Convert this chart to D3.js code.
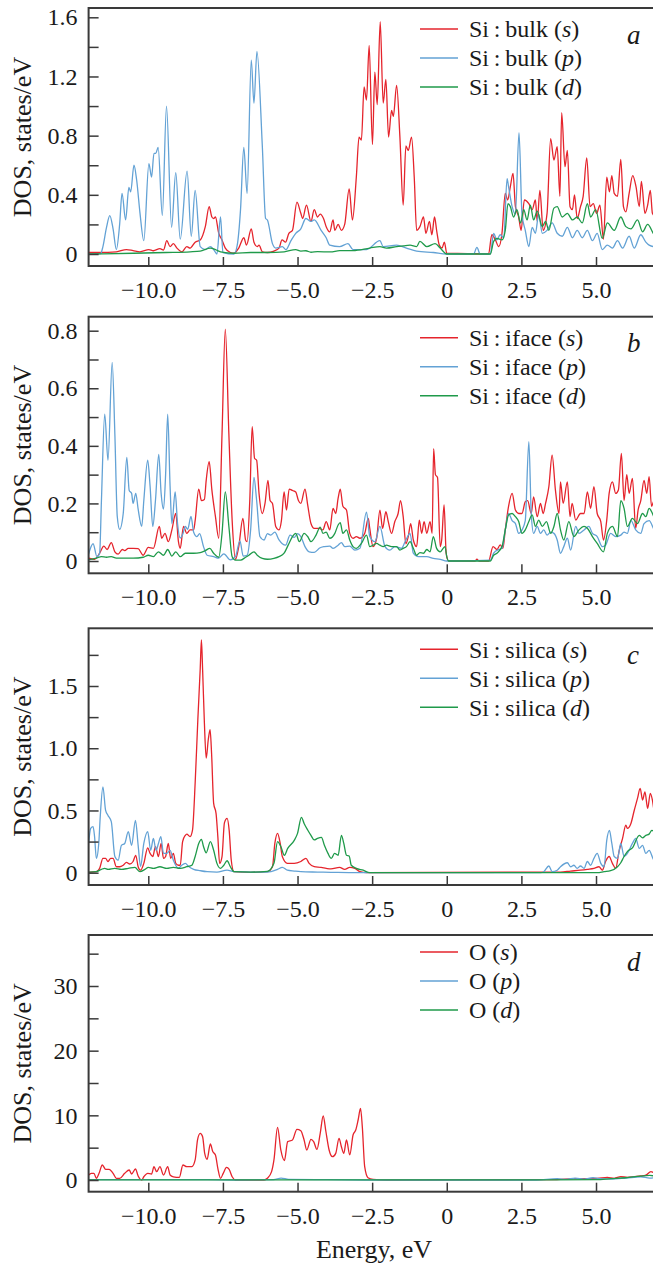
<!DOCTYPE html>
<html>
<head>
<meta charset="utf-8">
<script src="https://cdn.jsdelivr.net/npm/d3@7/dist/d3.min.js"></script>
<style>
  html, body { margin: 0; padding: 0; background: #fff; }
  svg { display: block; }
  text { font-family: "Liberation Serif", Tinos, "Times New Roman", Times, serif; fill: #1a1a1a; }
</style>
</head>
<body>
<svg id="chart" width="653" height="1268"></svg>
<script>
// ---- Projected DOS, [energy (eV), states/eV] ----
// a: Si bulk
const aS = [[-12,0.01],[-11.63,0.01],[-11.07,0.015],[-10.73,0.03],[-10.51,0.023],[-10.28,0.015],[-9.98,0.03],[-9.83,0.022],[-9.61,0.036],[-9.49,0.027],[-9.38,0.09],[-9.27,0.05],[-9.16,0.07],[-9.04,0.04],[-8.87,0.015],[-8.71,0.05],[-8.6,0.04],[-8.43,0.08],[-8.26,0.095],[-8.09,0.185],[-7.96,0.32],[-7.87,0.25],[-7.81,0.24],[-7.75,0.25],[-7.64,0.14],[-7.53,0.095],[-7.42,0.04],[-7.25,0.01],[-7.13,0.005],[-6.97,0.04],[-6.8,0.11],[-6.71,0.06],[-6.55,0.17],[-6.46,0.08],[-6.35,0.05],[-6.29,0.06],[-6.18,0.015],[-6.01,0.01],[-5.79,0.02],[-5.62,0.04],[-5.52,0.095],[-5.4,0.08],[-5.29,0.14],[-5.17,0.16],[-5.02,0.35],[-4.89,0.275],[-4.83,0.24],[-4.7,0.33],[-4.55,0.22],[-4.44,0.3],[-4.33,0.25],[-4.24,0.27],[-4.13,0.24],[-4.04,0.185],[-3.92,0.15],[-3.81,0.23],[-3.75,0.16],[-3.64,0.2],[-3.53,0.16],[-3.42,0.2],[-3.27,0.44],[-3.16,0.23],[-3.03,0.52],[-2.94,0.79],[-2.86,0.77],[-2.77,1.13],[-2.69,1.04],[-2.6,1.41],[-2.49,0.74],[-2.41,1.23],[-2.33,1.01],[-2.23,1.57],[-2.13,1.02],[-2.04,1.18],[-1.95,0.79],[-1.85,0.97],[-1.79,0.93],[-1.68,1.14],[-1.57,0.79],[-1.46,0.33],[-1.37,0.73],[-1.29,0.7],[-1.18,0.79],[-1.09,0.52],[-1.01,0.16],[-0.9,0.185],[-0.78,0.25],[-0.7,0.14],[-0.58,0.22],[-0.5,0.13],[-0.41,0.25],[-0.34,0.16],[-0.25,0.06],[-0.16,0.04],[-0.08,0.08],[0,0.005],[1.4,0],[1.51,0.13],[1.63,0.095],[1.74,0.05],[1.85,0.14],[1.96,0.41],[2.04,0.365],[2.13,0.455],[2.22,0.545],[2.3,0.32],[2.41,0.25],[2.49,0.16],[2.6,0.365],[2.75,0.34],[2.86,0.3],[2.97,0.365],[3.03,0.22],[3.12,0.43],[3.23,0.16],[3.36,0.275],[3.48,0.78],[3.59,0.635],[3.7,0.725],[3.79,0.39],[3.85,0.955],[3.96,0.59],[4.04,0.7],[4.13,0.32],[4.21,0.3],[4.28,0.4],[4.37,0.24],[4.48,0.32],[4.57,0.39],[4.69,0.65],[4.8,0.32],[4.91,0.34],[5.02,0.275],[5.13,0.33],[5.25,0.1],[5.36,0.52],[5.45,0.42],[5.53,0.53],[5.61,0.41],[5.72,0.39],[5.83,0.64],[5.92,0.32],[6,0.285],[6.11,0.41],[6.23,0.53],[6.34,0.455],[6.45,0.32],[6.52,0.49],[6.64,0.275],[6.73,0.33],[6.82,0.43],[6.89,0.275],[7,0.25]];
const aP = [[-12,0],[-11.6,0.002],[-11.52,0.05],[-11.4,0.18],[-11.29,0.26],[-11.18,0.17],[-11.07,0.03],[-10.96,0.2],[-10.88,0.41],[-10.76,0.23],[-10.65,0.45],[-10.59,0.42],[-10.48,0.6],[-10.39,0.5],[-10.28,0.28],[-10.15,0.09],[-9.98,0.61],[-9.89,0.52],[-9.81,0.68],[-9.75,0.68],[-9.67,0.72],[-9.53,0.26],[-9.39,1.0],[-9.22,0.18],[-9.08,0.55],[-8.93,0.1],[-8.7,0.56],[-8.56,0.12],[-8.43,0.43],[-8.26,0.05],[-8.09,0.03],[-7.92,0.05],[-7.81,0.03],[-7.7,0.0],[-7.58,0.25],[-7.5,0.01],[-7.13,0.0],[-7.02,0.06],[-6.91,0.3],[-6.8,0.72],[-6.69,0.41],[-6.55,1.31],[-6.46,1.02],[-6.36,1.37],[-6.18,0.73],[-6.07,0.24],[-6.01,0.23],[-5.84,0.07],[-5.73,0.04],[-5.51,0.05],[-5.39,0.03],[-5.22,0.09],[-5.06,0.14],[-4.89,0.17],[-4.72,0.24],[-4.55,0.22],[-4.44,0.23],[-4.21,0.16],[-4.04,0.11],[-3.92,0.06],[-3.59,0.05],[-3.31,0.07],[-3.14,0.03],[-2.69,0.03],[-2.24,0.09],[-2.13,0.05],[-1.68,0.06],[-1.35,0.04],[-1.01,0.02],[-0.45,0.01],[0,0],[0.9,0],[1.01,0.045],[1.12,0],[1.46,0],[1.57,0.14],[1.68,0.095],[1.79,0.13],[1.91,0.11],[2.02,0.51],[2.07,0.455],[2.19,0.32],[2.3,0.27],[2.42,0.82],[2.52,0.27],[2.63,0.16],[2.75,0.05],[2.86,0.18],[2.97,0.14],[3.08,0.27],[3.2,0.14],[3.36,0.16],[3.53,0.21],[3.7,0.14],[3.87,0.12],[4.04,0.18],[4.21,0.11],[4.37,0.16],[4.54,0.11],[4.71,0.16],[4.88,0.09],[5.04,0.14],[5.21,0.03],[5.38,0.06],[5.55,0.04],[5.72,0.09],[5.89,0.04],[6.11,0.12],[6.28,0.04],[6.5,0.13],[6.67,0.08],[6.78,0.06],[6.95,0.05],[7,0.05]];
const aD = [[-12,0],[-10.5,0.005],[-9.4,0.01],[-8.6,0.015],[-8.26,0.02],[-7.92,0.04],[-7.75,0.03],[-7.58,0.015],[-7.13,0.005],[-6.57,0.01],[-6.01,0.01],[-5.45,0.015],[-5.06,0.03],[-4.89,0.02],[-4.72,0.022],[-4.55,0.012],[-4.33,0.016],[-3.9,0.014],[-3.59,0.023],[-3.14,0.023],[-2.58,0.04],[-2.24,0.05],[-2.02,0.04],[-1.68,0.05],[-1.46,0.055],[-1.23,0.06],[-1.01,0.05],[-0.9,0.085],[-0.67,0.05],[-0.39,0.07],[-0.22,0.04],[0,0],[1.46,0],[1.57,0.085],[1.68,0.105],[1.85,0.095],[1.96,0.16],[2.05,0.34],[2.13,0.32],[2.24,0.25],[2.35,0.3],[2.47,0.21],[2.58,0.3],[2.69,0.23],[2.8,0.33],[2.91,0.23],[3.03,0.29],[3.2,0.185],[3.31,0.22],[3.42,0.16],[3.59,0.31],[3.7,0.32],[3.87,0.25],[4.04,0.275],[4.21,0.23],[4.37,0.25],[4.54,0.21],[4.71,0.34],[4.82,0.25],[4.99,0.3],[5.21,0.105],[5.38,0.21],[5.61,0.16],[5.83,0.25],[6,0.185],[6.17,0.17],[6.39,0.23],[6.56,0.15],[6.73,0.2],[6.95,0.13],[7,0.12]];

// b: Si interface
const bS = [[-12,0.01],[-11.8,0.006],[-11.63,0.027],[-11.49,0.052],[-11.38,0.04],[-11.24,0.064],[-11.12,0.032],[-11.01,0.024],[-10.87,0.04],[-10.79,0.036],[-10.67,0.044],[-10.51,0.044],[-10.34,0.043],[-10.17,0.02],[-10,0.047],[-9.83,0.044],[-9.63,0.12],[-9.55,0.079],[-9.44,0.096],[-9.33,0.067],[-9.21,0.108],[-9.08,0.165],[-8.99,0.067],[-8.93,0.044],[-8.82,0.12],[-8.71,0.096],[-8.6,0.108],[-8.48,0.108],[-8.43,0.14],[-8.31,0.25],[-8.22,0.21],[-8.12,0.214],[-8.06,0.28],[-7.96,0.345],[-7.87,0.247],[-7.75,0.154],[-7.64,0.079],[-7.53,0.44],[-7.42,0.805],[-7.3,0.44],[-7.19,0.14],[-7.08,0.006],[-6.97,0.05],[-6.83,0.148],[-6.74,0.073],[-6.69,0.067],[-6.6,0.21],[-6.52,0.467],[-6.44,0.357],[-6.37,0.35],[-6.29,0.235],[-6.18,0.165],[-6.09,0.2],[-5.99,0.28],[-5.92,0.21],[-5.84,0.2],[-5.73,0.12],[-5.62,0.108],[-5.54,0.14],[-5.45,0.24],[-5.37,0.177],[-5.28,0.25],[-5.17,0.245],[-5.06,0.24],[-4.97,0.21],[-4.89,0.2],[-4.75,0.25],[-4.66,0.195],[-4.55,0.13],[-4.44,0.113],[-4.27,0.113],[-4.15,0.108],[-4.04,0.137],[-3.92,0.108],[-3.81,0.183],[-3.72,0.165],[-3.64,0.218],[-3.57,0.25],[-3.48,0.19],[-3.36,0.177],[-3.25,0.096],[-3.14,0.079],[-3.03,0.085],[-2.91,0.079],[-2.75,0.096],[-2.63,0.148],[-2.58,0.113],[-2.47,0.05],[-2.35,0.079],[-2.24,0.177],[-2.15,0.113],[-2.04,0.171],[-1.96,0.137],[-1.85,0.096],[-1.74,0.137],[-1.63,0.165],[-1.55,0.21],[-1.46,0.154],[-1.37,0.06],[-1.29,0.085],[-1.21,0.13],[-1.12,0.073],[-1.01,0.05],[-0.92,0.142],[-0.84,0.096],[-0.76,0.137],[-0.67,0.096],[-0.56,0.137],[-0.49,0.096],[-0.44,0.39],[-0.38,0.3],[-0.31,0.29],[-0.22,0.05],[-0.17,0.073],[-0.09,0.195],[-0.02,0.027],[0.06,0],[0.95,0],[1.01,0.006],[1.08,0],[1.4,0],[1.55,0.05],[1.68,0.04],[1.79,0.056],[1.88,0.044],[1.96,0.108],[2.07,0.19],[2.19,0.235],[2.3,0.177],[2.41,0.165],[2.52,0.165],[2.63,0.206],[2.71,0.21],[2.83,0.165],[2.91,0.223],[3.03,0.154],[3.14,0.2],[3.23,0.165],[3.31,0.2],[3.42,0.258],[3.53,0.368],[3.64,0.247],[3.76,0.165],[3.81,0.275],[3.9,0.2],[4.04,0.275],[4.13,0.154],[4.2,0.2],[4.32,0.142],[4.48,0.165],[4.6,0.165],[4.71,0.24],[4.82,0.183],[4.93,0.258],[5.04,0.165],[5.16,0.137],[5.25,0.073],[5.36,0.142],[5.44,0.235],[5.55,0.275],[5.66,0.235],[5.75,0.247],[5.85,0.374],[5.94,0.21],[6.03,0.3],[6.11,0.235],[6.22,0.287],[6.33,0.113],[6.41,0.177],[6.5,0.21],[6.61,0.28],[6.7,0.235],[6.78,0.293],[6.86,0.19],[6.95,0.21],[7,0.2]];
const bP = [[-12,0.024],[-11.85,0.06],[-11.72,0.015],[-11.63,0.027],[-11.57,0.21],[-11.46,0.51],[-11.35,0.35],[-11.21,0.69],[-11.12,0.44],[-11.04,0.155],[-10.96,0.11],[-10.84,0.165],[-10.72,0.36],[-10.64,0.245],[-10.56,0.235],[-10.51,0.2],[-10.42,0.235],[-10.34,0.18],[-10.22,0.12],[-10.15,0.21],[-10.02,0.35],[-9.94,0.26],[-9.85,0.12],[-9.76,0.21],[-9.65,0.37],[-9.57,0.235],[-9.49,0.18],[-9.42,0.3],[-9.35,0.51],[-9.27,0.26],[-9.21,0.13],[-9.1,0.24],[-9.02,0.13],[-8.93,0.08],[-8.84,0.095],[-8.76,0.12],[-8.68,0.11],[-8.57,0.155],[-8.48,0.1],[-8.37,0.085],[-8.28,0.095],[-8.15,0.05],[-8.03,0.02],[-7.81,0.015],[-7.64,0.01],[-7.47,0.025],[-7.25,0.004],[-7.08,0.015],[-6.93,0.07],[-6.82,0.017],[-6.69,0.02],[-6.57,0.11],[-6.46,0.29],[-6.37,0.21],[-6.26,0.085],[-6.12,0.073],[-6.01,0.095],[-5.9,0.09],[-5.76,0.1],[-5.62,0.073],[-5.51,0.06],[-5.4,0.055],[-5.25,0.09],[-5.11,0.082],[-5,0.095],[-4.89,0.085],[-4.75,0.05],[-4.61,0.032],[-4.44,0.03],[-4.26,0.045],[-4.1,0.05],[-3.92,0.052],[-3.81,0.044],[-3.64,0.055],[-3.53,0.064],[-3.42,0.05],[-3.25,0.052],[-3.08,0.038],[-2.91,0.044],[-2.69,0.17],[-2.58,0.085],[-2.41,0.067],[-2.24,0.12],[-2.07,0.05],[-1.91,0.038],[-1.74,0.05],[-1.52,0.044],[-1.37,0.073],[-1.23,0.096],[-1.12,0.027],[-0.95,0.015],[-0.67,0.015],[-0.45,0.009],[-0.22,0.006],[0,0],[1.46,0.003],[1.57,0.027],[1.74,0.04],[1.85,0.044],[1.96,0.108],[2.07,0.165],[2.19,0.14],[2.3,0.13],[2.41,0.096],[2.52,0.108],[2.63,0.14],[2.75,0.415],[2.83,0.165],[2.91,0.096],[3.03,0.12],[3.14,0.096],[3.25,0.108],[3.36,0.09],[3.48,0.1],[3.59,0.096],[3.7,0.073],[3.81,0.027],[3.92,0.05],[4.04,0.079],[4.15,0.038],[4.32,0.12],[4.43,0.096],[4.6,0.108],[4.76,0.12],[4.88,0.096],[5.04,0.085],[5.21,0.05],[5.32,0.055],[5.49,0.096],[5.66,0.085],[5.83,0.09],[5.94,0.1],[6.05,0.096],[6.17,0.14],[6.33,0.108],[6.5,0.096],[6.61,0.13],[6.78,0.14],[6.95,0.108],[7,0.1]];
const bD = [[-12,0.004],[-11.74,0.01],[-11.57,0.015],[-11.4,0.013],[-11.24,0.015],[-11.07,0.01],[-10.84,0.01],[-10.51,0.01],[-10.17,0.013],[-10,0.02],[-9.83,0.015],[-9.66,0.032],[-9.49,0.02],[-9.35,0.04],[-9.21,0.017],[-9.08,0.032],[-8.93,0.015],[-8.76,0.027],[-8.48,0.027],[-8.26,0.029],[-8.09,0.036],[-7.94,0.044],[-7.81,0.027],[-7.64,0.013],[-7.53,0.096],[-7.42,0.24],[-7.3,0.12],[-7.19,0.015],[-7.08,0.003],[-6.91,0.003],[-6.74,0.013],[-6.63,0.02],[-6.46,0.032],[-6.35,0.02],[-6.18,0.009],[-6.01,0.006],[-5.79,0.009],[-5.62,0.015],[-5.45,0.027],[-5.31,0.056],[-5.17,0.085],[-5.06,0.096],[-4.94,0.067],[-4.78,0.096],[-4.66,0.085],[-4.55,0.067],[-4.38,0.09],[-4.24,0.118],[-4.15,0.096],[-4.04,0.1],[-3.92,0.079],[-3.75,0.096],[-3.64,0.125],[-3.57,0.133],[-3.48,0.096],[-3.36,0.108],[-3.25,0.073],[-3.14,0.05],[-3.03,0.044],[-2.86,0.061],[-2.69,0.09],[-2.58,0.05],[-2.47,0.055],[-2.35,0.061],[-2.24,0.055],[-2.13,0.05],[-2.02,0.055],[-1.85,0.05],[-1.68,0.05],[-1.57,0.038],[-1.46,0.044],[-1.35,0.05],[-1.23,0.067],[-1.12,0.044],[-1.01,0.02],[-0.9,0.029],[-0.78,0.027],[-0.67,0.04],[-0.56,0.032],[-0.45,0.085],[-0.34,0.044],[-0.22,0.032],[-0.06,0.05],[0,0.015],[0.06,0],[1.46,0],[1.57,0.02],[1.68,0.027],[1.85,0.05],[1.96,0.108],[2.07,0.16],[2.19,0.165],[2.3,0.154],[2.41,0.137],[2.52,0.096],[2.63,0.108],[2.75,0.137],[2.86,0.16],[2.97,0.12],[3.08,0.142],[3.2,0.12],[3.34,0.137],[3.48,0.096],[3.59,0.12],[3.7,0.165],[3.81,0.108],[3.92,0.073],[4.09,0.137],[4.26,0.085],[4.43,0.108],[4.6,0.12],[4.71,0.114],[4.88,0.085],[5.04,0.061],[5.25,0.032],[5.38,0.096],[5.55,0.12],[5.72,0.085],[5.83,0.21],[5.94,0.183],[6.05,0.12],[6.22,0.148],[6.39,0.13],[6.56,0.165],[6.67,0.154],[6.78,0.183],[6.89,0.165],[7,0.137]];

// c: Si in silica
const cS = [[-12,0.003],[-11.74,0.008],[-11.63,0.035],[-11.52,0.115],[-11.43,0.115],[-11.35,0.09],[-11.26,0.115],[-11.18,0.115],[-11.07,0.048],[-10.96,0.048],[-10.84,0.06],[-10.73,0.083],[-10.62,0.07],[-10.51,0.09],[-10.42,0.14],[-10.34,0.048],[-10.26,0.02],[-10.15,0.075],[-10.02,0.2],[-9.94,0.155],[-9.85,0.13],[-9.76,0.21],[-9.66,0.13],[-9.57,0.235],[-9.49,0.115],[-9.42,0.13],[-9.33,0.235],[-9.25,0.115],[-9.16,0.155],[-9.08,0.075],[-8.99,0.06],[-8.93,0.06],[-8.85,0.25],[-8.76,0.3],[-8.71,0.31],[-8.6,0.29],[-8.52,0.34],[-8.43,0.72],[-8.34,1.23],[-8.26,1.64],[-8.22,1.87],[-8.18,1.63],[-8.12,1.2],[-8.06,0.92],[-7.99,1.07],[-7.93,1.15],[-7.88,0.96],[-7.81,0.557],[-7.73,0.477],[-7.67,0.29],[-7.61,0.075],[-7.53,0.13],[-7.45,0.4],[-7.36,0.437],[-7.29,0.34],[-7.22,0.1],[-7.13,0.008],[-6.57,0.003],[-6.01,0.008],[-5.84,0.048],[-5.76,0.235],[-5.67,0.316],[-5.58,0.235],[-5.51,0.13],[-5.34,0.075],[-5.11,0.075],[-4.89,0.09],[-4.72,0.115],[-4.61,0.075],[-4.44,0.048],[-4.21,0.043],[-4.04,0.035],[-3.88,0.03],[-3.59,0.043],[-3.42,0.027],[-3.25,0.043],[-3.08,0.035],[-2.91,0.008],[-2.69,0],[3.81,0.005],[4.15,0.013],[4.48,0.02],[4.71,0.027],[4.93,0.035],[5.1,0.048],[5.21,0.02],[5.32,0.09],[5.44,0.13],[5.55,0.075],[5.66,0.035],[5.77,0.17],[5.89,0.276],[6,0.383],[6.05,0.356],[6.17,0.396],[6.28,0.5],[6.39,0.597],[6.48,0.678],[6.56,0.584],[6.64,0.65],[6.73,0.517],[6.82,0.638],[6.89,0.584],[6.95,0.5],[7,0.52]];
const cP = [[-12,0.235],[-11.93,0.356],[-11.85,0.37],[-11.8,0.29],[-11.74,0.115],[-11.66,0.235],[-11.61,0.45],[-11.52,0.69],[-11.43,0.5],[-11.35,0.46],[-11.24,0.41],[-11.12,0.13],[-11.01,0.1],[-10.9,0.22],[-10.79,0.235],[-10.67,0.33],[-10.56,0.22],[-10.43,0.42],[-10.34,0.22],[-10.26,0.05],[-10.15,0.235],[-10.02,0.33],[-9.92,0.18],[-9.83,0.275],[-9.74,0.18],[-9.66,0.235],[-9.58,0.29],[-9.49,0.155],[-9.38,0.155],[-9.27,0.18],[-9.16,0.1],[-8.99,0.035],[-8.88,0.06],[-8.76,0.075],[-8.65,0.05],[-8.48,0.027],[-8.26,0.016],[-8.03,0.008],[-7.7,0.005],[-7.36,0.02],[-7.13,0.008],[-6.57,0.005],[-6.01,0.005],[-5.67,0.027],[-5.51,0.043],[-5.34,0.02],[-5.11,0.013],[-4.89,0.008],[-4.33,0.005],[-3.88,0.003],[-3,0],[3.14,0],[3.25,0.008],[3.42,0.054],[3.53,0.008],[3.7,0.02],[3.81,0.048],[4.04,0.08],[4.15,0.048],[4.26,0.06],[4.37,0.035],[4.48,0.054],[4.6,0.035],[4.71,0.09],[4.82,0.06],[4.93,0.115],[5.04,0.155],[5.16,0.075],[5.27,0.048],[5.36,0.26],[5.45,0.34],[5.53,0.235],[5.61,0.13],[5.72,0.115],[5.83,0.235],[5.94,0.13],[6.05,0.155],[6.22,0.235],[6.33,0.275],[6.45,0.195],[6.56,0.22],[6.67,0.155],[6.78,0.18],[6.95,0.1],[7,0.1]];
const cD = [[-12,0.005],[-11.74,0.008],[-11.57,0.027],[-11.46,0.035],[-11.35,0.027],[-11.12,0.035],[-10.9,0.027],[-10.67,0.035],[-10.45,0.043],[-10.28,0.008],[-10.11,0.027],[-10,0.043],[-9.83,0.035],[-9.61,0.048],[-9.38,0.035],[-9.16,0.043],[-8.93,0.035],[-8.71,0.048],[-8.54,0.06],[-8.43,0.13],[-8.31,0.235],[-8.22,0.268],[-8.15,0.21],[-8.06,0.16],[-7.92,0.25],[-7.81,0.18],[-7.7,0.075],[-7.58,0.035],[-7.47,0.06],[-7.36,0.096],[-7.25,0.048],[-7.13,0.008],[-6.57,0.005],[-6.01,0.01],[-5.79,0.075],[-5.67,0.25],[-5.56,0.21],[-5.44,0.14],[-5.33,0.195],[-5.11,0.26],[-5,0.316],[-4.87,0.445],[-4.78,0.396],[-4.66,0.343],[-4.55,0.3],[-4.44,0.263],[-4.33,0.276],[-4.2,0.284],[-4.1,0.22],[-3.98,0.155],[-3.87,0.115],[-3.76,0.155],[-3.64,0.14],[-3.53,0.3],[-3.45,0.235],[-3.36,0.14],[-3.27,0.134],[-3.2,0.06],[-3.03,0.035],[-2.8,0.02],[-2.58,0],[5.04,0],[5.27,0.008],[5.49,0.016],[5.72,0.048],[5.83,0.08],[5.94,0.13],[6.05,0.17],[6.22,0.2],[6.45,0.3],[6.56,0.28],[6.67,0.3],[6.78,0.31],[6.87,0.34],[7,0.32]];

// d: oxygen
const dS = [[-12,0.77],[-11.91,1.03],[-11.82,1.03],[-11.74,0.26],[-11.65,1.03],[-11.54,2.32],[-11.43,1.65],[-11.31,1.65],[-11.18,1.03],[-11.07,0.26],[-10.96,0.26],[-10.79,1.03],[-10.64,1.55],[-10.56,0.93],[-10.43,1.7],[-10.34,0.62],[-10.22,0],[-10.15,0.5],[-10.02,1.03],[-9.89,0.93],[-9.81,2.06],[-9.72,1.29],[-9.61,2.06],[-9.49,0.77],[-9.35,2.06],[-9.27,0.77],[-9.16,0.5],[-8.96,0.41],[-8.84,2.32],[-8.71,2.06],[-8.54,2.06],[-8.43,3.1],[-8.35,6.2],[-8.26,7.2],[-8.18,6.7],[-8.11,4.1],[-8.03,3.2],[-7.92,5.57],[-7.84,4.4],[-7.75,3.87],[-7.67,1.8],[-7.58,0.26],[-7.49,1.03],[-7.38,1.96],[-7.29,1.65],[-7.19,0.5],[-7.08,0],[-6.12,0],[-6.01,0.26],[-5.87,1.29],[-5.79,3.1],[-5.67,8.14],[-5.56,4.64],[-5.44,3.0],[-5.33,5.93],[-5.17,6.19],[-5.02,7.84],[-4.89,7.63],[-4.78,6.19],[-4.69,4.64],[-4.55,6.29],[-4.46,5.93],[-4.35,4.74],[-4.24,7.22],[-4.14,9.9],[-4.05,7.5],[-3.94,4.6],[-3.83,3.6],[-3.72,4.12],[-3.61,6.44],[-3.53,5.15],[-3.45,4.12],[-3.36,6.19],[-3.25,3.87],[-3.14,6.96],[-3.05,7.73],[-2.97,9.28],[-2.89,11.08],[-2.83,8.25],[-2.75,2.06],[-2.64,0.36],[-2.47,0.1],[-2,0],[3.5,0.05],[4.26,0.2],[5.04,0.26],[5.38,0.41],[5.61,0.26],[5.83,0.52],[6.05,0.41],[6.28,0.52],[6.5,0.62],[6.67,0.77],[6.84,1.29],[6.95,1.13],[7,1.2]];
const dP = [[-12,0.05],[-8,0.05],[-7.1,0],[-5.8,0.05],[-5.55,0.3],[-5.3,0.1],[-4,0.05],[-2.5,0],[3,0],[3.7,0.2],[4,0.1],[4.3,0.3],[4.6,0.15],[4.9,0.35],[5.1,0.2],[5.5,0.15],[6,0.3],[6.5,0.5],[6.8,0.3],[7,0.4]];
const dD = [[-12,0.02],[-2.5,0.02],[3.5,0.02],[5,0.05],[5.5,0.2],[6,0.35],[6.5,0.6],[6.8,0.7],[7,0.6]];

// ---- Axis ticks and labels ----
const energyTicks = [-10, -7.5, -5, -2.5, 0, 2.5, 5];
const aTicks = [0, 0.4, 0.8, 1.2, 1.6],  aMinor = [0.2, 0.6, 1.0, 1.4];
const bTicks = [0, 0.2, 0.4, 0.6, 0.8],  bMinor = [0.1, 0.3, 0.5, 0.7];
const cTicks = [0, 0.5, 1.0, 1.5],       cMinor = [0.25, 0.75, 1.25, 1.75];
const dTicks = [0, 10, 20, 30],          dMinor = [5, 15, 25, 35];
const orbitals = ["s", "p", "d"];
const sites = ["Si\u2009:\u2009bulk", "Si\u2009:\u2009iface", "Si\u2009:\u2009silica", "O"];
const panelLetters = ["a", "b", "c", "d"];
const yTitle = "DOS, states/eV";
const xTitle = "Energy, eV";

// ---- Layout ----
const serif = "'Liberation Serif', Tinos, 'Times New Roman', Times, serif";
const colors = ["#e5242c", "#63a2d5", "#1f9a4a"];
const svg = d3.select("#chart");
const x = d3.scaleLinear().domain([-12, 7]).range([88.6, 655.7]);

const fmt1 = v => v === 0 ? "0" : d3.format(".1f")(v);
const fmt0 = v => d3.format("d")(v);

const panels = [
  { series: [aS, aP, aD], ticks: aTicks, minor: aMinor, fmt: fmt1, top: 8,     bottom: 266,    y0: 254,   yTop: 1.6, yTopPx: 17.3 },
  { series: [bS, bP, bD], ticks: bTicks, minor: bMinor, fmt: fmt1, top: 316.7, bottom: 573.3,  y0: 561,   yTop: 0.8, yTopPx: 330.7 },
  { series: [cS, cP, cD], ticks: cTicks, minor: cMinor, fmt: fmt1, top: 628.3, bottom: 885,    y0: 872.7, yTop: 1.5, yTopPx: 686 },
  { series: [dS, dP, dD], ticks: dTicks, minor: dMinor, fmt: fmt0, top: 935,   bottom: 1191.7, y0: 1180,  yTop: 30,  yTopPx: 986 }
];

const frameColor = "#3a3a3a";

panels.forEach((p, i) => {
  // linear scale fixed by the zero line and the top labelled tick
  const pxPerUnit = (p.y0 - p.yTopPx) / p.yTop;
  const y = d3.scaleLinear()
    .domain([-(p.bottom - p.y0) / pxPerUnit, (p.y0 - p.top) / pxPerUnit])
    .range([p.bottom, p.top]);

  const g = svg.append("g");

  const clipId = "clip" + i;
  svg.append("clipPath").attr("id", clipId)
    .append("rect")
    .attr("x", x.range()[0]).attr("y", p.top)
    .attr("width", x.range()[1] - x.range()[0]).attr("height", p.bottom - p.top);

  const line = d3.line()
    .x(d => x(d[0]))
    .y(d => y(d[1]))
    .curve(d3.curveMonotoneX);

  const lines = g.append("g").attr("clip-path", `url(#${clipId})`);
  p.series.forEach((s, k) => {
    lines.append("path")
      .datum(s)
      .attr("fill", "none")
      .attr("stroke", colors[k])
      .attr("stroke-width", 1.3)
      .attr("stroke-linejoin", "round")
      .attr("d", line);
  });

  // frame: top, left and bottom edges (right edge lies past the viewport)
  g.append("rect")
    .attr("x", x.range()[0]).attr("y", p.top)
    .attr("width", x.range()[1] - x.range()[0]).attr("height", p.bottom - p.top)
    .attr("fill", "none").attr("stroke", frameColor).attr("stroke-width", 2);

  // y axis, inward ticks
  const yAxis = g.append("g")
    .attr("transform", `translate(${x.range()[0]},0)`)
    .call(d3.axisLeft(y).tickValues(p.ticks).tickFormat(p.fmt).tickSize(-10).tickPadding(11));
  const yMinor = g.append("g")
    .attr("transform", `translate(${x.range()[0]},0)`)
    .call(d3.axisLeft(y).tickValues(p.minor).tickFormat("").tickSize(-10));
  [yAxis, yMinor].forEach(a => {
    a.attr("font-family", serif);
    a.select(".domain").remove();
    a.selectAll(".tick line").attr("stroke", frameColor).attr("stroke-width", 1.5);
  });
  yAxis.selectAll("text").attr("font-size", 24).attr("fill", "#1a1a1a");

  // energy axis, inward ticks
  const xAxis = g.append("g")
    .attr("transform", `translate(0,${p.bottom})`)
    .attr("font-family", serif)
    .call(d3.axisBottom(x).tickValues(energyTicks).tickFormat(fmt1).tickSize(-9));
  xAxis.select(".domain").remove();
  xAxis.selectAll(".tick line").attr("stroke", frameColor).attr("stroke-width", 1.5);
  xAxis.selectAll("text")
    .attr("y", 32).attr("dy", null)
    .attr("font-size", 24).attr("fill", "#1a1a1a");

  // y title
  g.append("text")
    .attr("transform", `translate(31,${(p.top + p.bottom) / 2}) rotate(-90)`)
    .attr("text-anchor", "middle")
    .attr("font-size", 26)
    .text(yTitle);

  // legend
  const lg = g.append("g");
  const legTop = p.top + (i === 3 ? 17 : 21);
  orbitals.forEach((o, k) => {
    const ry = legTop + k * 29;
    lg.append("line")
      .attr("x1", 420).attr("x2", 458).attr("y1", ry).attr("y2", ry)
      .attr("stroke", colors[k]).attr("stroke-width", 1.5);
    const t = lg.append("text").attr("x", 469).attr("y", ry + 8.3).attr("font-size", 24);
    t.append("tspan").text(sites[i] + " (");
    t.append("tspan").attr("font-style", "italic").text(o);
    t.append("tspan").text(")");
  });

  // panel letter
  g.append("text")
    .attr("x", 627).attr("y", p.top + 35.5)
    .attr("font-size", 27).attr("font-style", "italic")
    .text(panelLetters[i]);
});

svg.append("text")
  .attr("x", 374).attr("y", 1258)
  .attr("text-anchor", "middle")
  .attr("font-size", 26)
  .text(xTitle);
</script>
</body>
</html>
